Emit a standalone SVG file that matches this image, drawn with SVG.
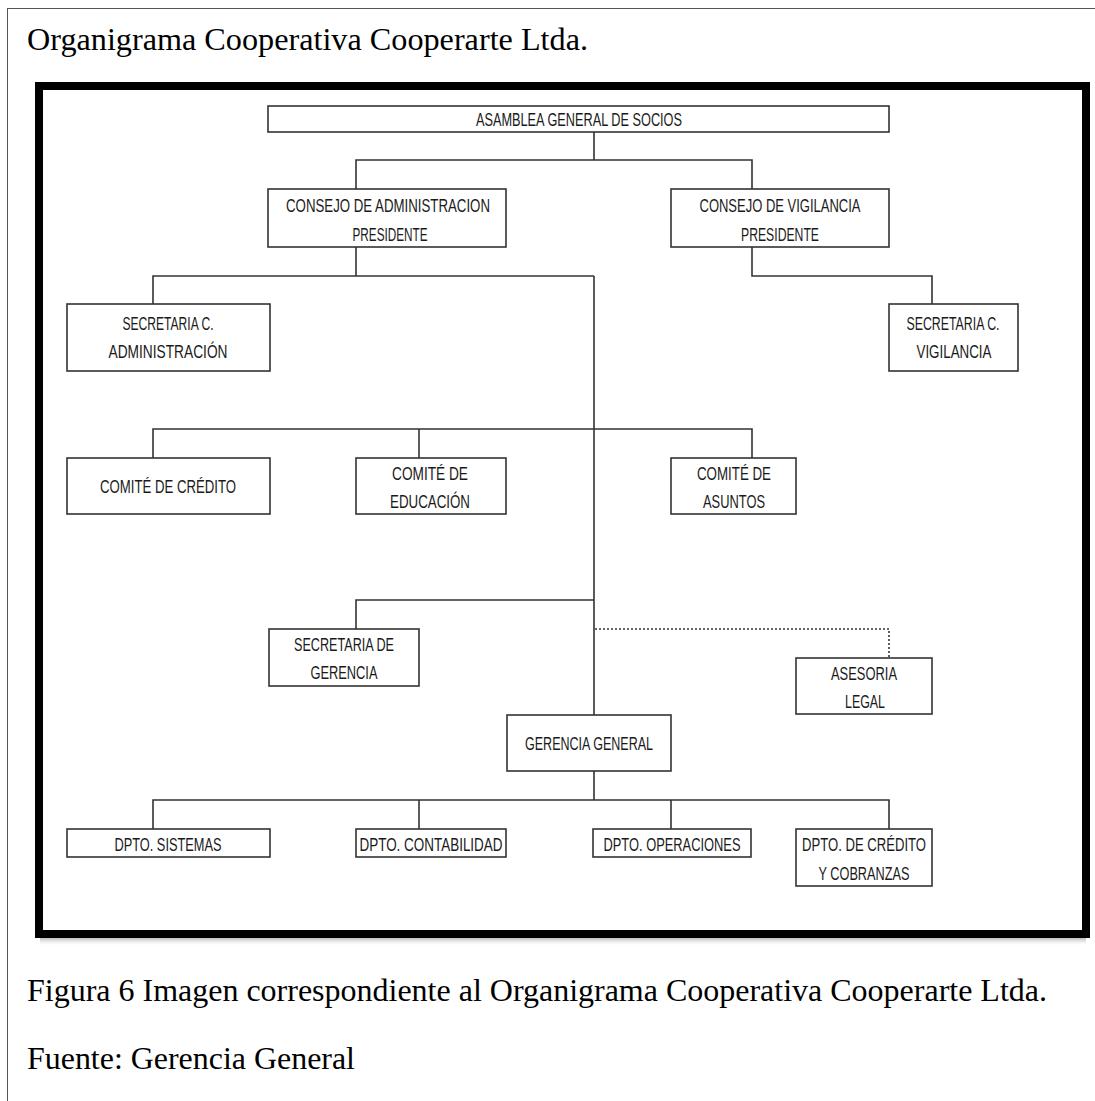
<svg xmlns="http://www.w3.org/2000/svg" width="1095" height="1101" viewBox="0 0 1095 1101">
<defs>
<style>
.box{fill:#fff;stroke:#333;stroke-width:1.6}
.ln{fill:none;stroke:#333;stroke-width:1.6}
.dot{fill:none;stroke:#333;stroke-width:1.6;stroke-dasharray:2 2}
.t{font-family:"Liberation Sans",Arial,sans-serif;font-size:18px;fill:#1a1a1a;text-anchor:middle}
.serif{font-family:"Liberation Serif","Times New Roman",serif;fill:#000}
</style>
<linearGradient id="sh" x1="0" y1="0" x2="0" y2="1">
<stop offset="0" stop-color="#666"/>
<stop offset="1" stop-color="#fff" stop-opacity="0"/>
</linearGradient>
</defs>
<rect x="0" y="0" width="1095" height="1101" fill="#fff"/>
<rect x="7.5" y="8.5" width="1100" height="1100" fill="none" stroke="#555" stroke-width="1"/>
<text class="serif" x="27" y="50" font-size="31" textLength="561" lengthAdjust="spacingAndGlyphs">Organigrama Cooperativa Cooperarte Ltda.</text>
<rect x="40" y="934" width="1046" height="12" fill="url(#sh)"/>
<rect x="39" y="86" width="1047" height="848" fill="#fff" stroke="#000" stroke-width="8"/>
<g id="connectors">
<polyline class="ln" points="594,132 594,160"/>
<polyline class="ln" points="356,189 356,160 752,160 752,189"/>
<polyline class="ln" points="356,247 356,276"/>
<polyline class="ln" points="153,304 153,276 594,276"/>
<polyline class="ln" points="594,276 594,715"/>
<polyline class="ln" points="752,247 752,276 932,276 932,304"/>
<polyline class="ln" points="153,458 153,429 752,429 752,458"/>
<polyline class="ln" points="419,429 419,458"/>
<polyline class="ln" points="356,629 356,600 594,600"/>
<polyline class="dot" points="595,629 889,629 889,658"/>
<polyline class="ln" points="594,771 594,800"/>
<polyline class="ln" points="153,829 153,800 889,800 889,829"/>
<polyline class="ln" points="419,800 419,829"/>
<polyline class="ln" points="671,800 671,829"/>
</g>
<g id="asamblea"><rect class="box" x="268" y="106" width="621" height="26"/><text class="t" x="579" y="126" textLength="206" lengthAdjust="spacingAndGlyphs">ASAMBLEA GENERAL DE SOCIOS</text></g>
<g id="consejo-admin"><rect class="box" x="268" y="189" width="238" height="58"/><text class="t" x="388" y="212" textLength="204" lengthAdjust="spacingAndGlyphs">CONSEJO DE ADMINISTRACION</text><text class="t" x="390" y="241" textLength="75" lengthAdjust="spacingAndGlyphs">PRESIDENTE</text></g>
<g id="consejo-vig"><rect class="box" x="671" y="189" width="218" height="58"/><text class="t" x="780" y="212" textLength="161" lengthAdjust="spacingAndGlyphs">CONSEJO DE VIGILANCIA</text><text class="t" x="780" y="241" textLength="78" lengthAdjust="spacingAndGlyphs">PRESIDENTE</text></g>
<g id="sec-admin"><rect class="box" x="67" y="304" width="203" height="67"/><text class="t" x="168" y="330" textLength="91" lengthAdjust="spacingAndGlyphs">SECRETARIA C.</text><text class="t" x="168" y="358" textLength="119" lengthAdjust="spacingAndGlyphs">ADMINISTRACIÓN</text></g>
<g id="sec-vig"><rect class="box" x="889" y="304" width="129" height="67"/><text class="t" x="953" y="330" textLength="93" lengthAdjust="spacingAndGlyphs">SECRETARIA C.</text><text class="t" x="954" y="358" textLength="75" lengthAdjust="spacingAndGlyphs">VIGILANCIA</text></g>
<g id="comite-credito"><rect class="box" x="67" y="458" width="203" height="56"/><text class="t" x="168" y="493" textLength="136" lengthAdjust="spacingAndGlyphs">COMITÉ DE CRÉDITO</text></g>
<g id="comite-educacion"><rect class="box" x="356" y="458" width="150" height="56"/><text class="t" x="430" y="480" textLength="76" lengthAdjust="spacingAndGlyphs">COMITÉ DE</text><text class="t" x="430" y="508" textLength="80" lengthAdjust="spacingAndGlyphs">EDUCACIÓN</text></g>
<g id="comite-asuntos"><rect class="box" x="671" y="458" width="125" height="56"/><text class="t" x="734" y="480" textLength="74" lengthAdjust="spacingAndGlyphs">COMITÉ DE</text><text class="t" x="734" y="508" textLength="62" lengthAdjust="spacingAndGlyphs">ASUNTOS</text></g>
<g id="sec-gerencia"><rect class="box" x="269" y="629" width="150" height="57"/><text class="t" x="344" y="651" textLength="100" lengthAdjust="spacingAndGlyphs">SECRETARIA DE</text><text class="t" x="344" y="679" textLength="67" lengthAdjust="spacingAndGlyphs">GERENCIA</text></g>
<g id="asesoria"><rect class="box" x="796" y="658" width="136" height="56"/><text class="t" x="864" y="680" textLength="66" lengthAdjust="spacingAndGlyphs">ASESORIA</text><text class="t" x="865" y="708" textLength="40" lengthAdjust="spacingAndGlyphs">LEGAL</text></g>
<g id="gerencia"><rect class="box" x="507" y="715" width="164" height="56"/><text class="t" x="589" y="750" textLength="128" lengthAdjust="spacingAndGlyphs">GERENCIA GENERAL</text></g>
<g id="dpto-sistemas"><rect class="box" x="67" y="829" width="203" height="28"/><text class="t" x="168" y="851" textLength="107" lengthAdjust="spacingAndGlyphs">DPTO. SISTEMAS</text></g>
<g id="dpto-contabilidad"><rect class="box" x="356" y="829" width="150" height="28"/><text class="t" x="431" y="851" textLength="143" lengthAdjust="spacingAndGlyphs">DPTO. CONTABILIDAD</text></g>
<g id="dpto-operaciones"><rect class="box" x="593" y="829" width="158" height="28"/><text class="t" x="672" y="851" textLength="137" lengthAdjust="spacingAndGlyphs">DPTO. OPERACIONES</text></g>
<g id="dpto-credito"><rect class="box" x="796" y="829" width="136" height="57"/><text class="t" x="864" y="851" textLength="124" lengthAdjust="spacingAndGlyphs">DPTO. DE CRÉDITO</text><text class="t" x="864" y="880" textLength="91" lengthAdjust="spacingAndGlyphs">Y COBRANZAS</text></g>
<text class="serif" x="27" y="1001" font-size="31" textLength="1020" lengthAdjust="spacingAndGlyphs">Figura 6 Imagen correspondiente al Organigrama Cooperativa Cooperarte Ltda.</text>
<text class="serif" x="27" y="1069" font-size="31" textLength="328" lengthAdjust="spacingAndGlyphs">Fuente: Gerencia General</text>
</svg>
